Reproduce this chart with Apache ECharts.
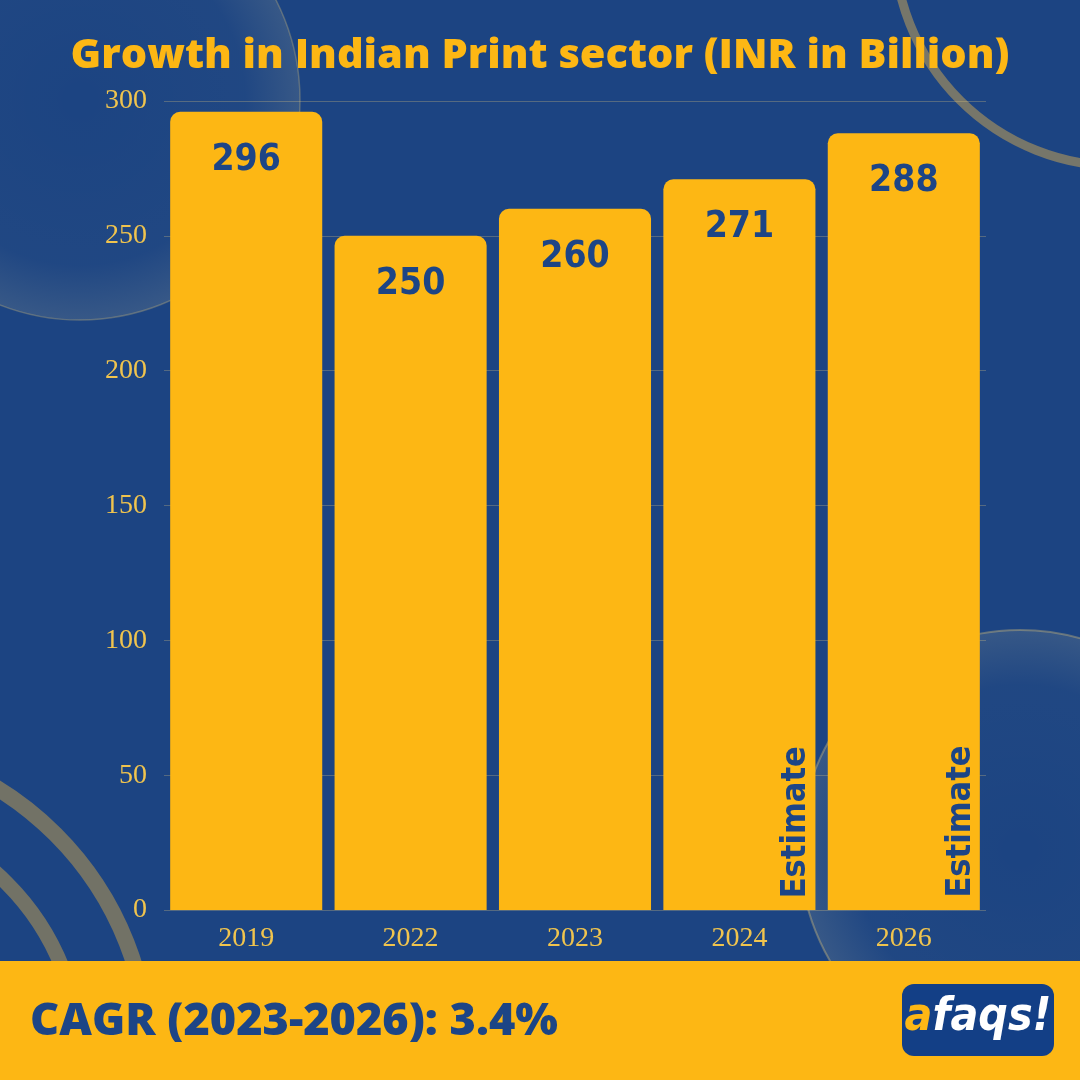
<!DOCTYPE html>
<html>
<head>
<meta charset="utf-8">
<script src="https://cdn.jsdelivr.net/npm/echarts@6/dist/echarts.min.js"></script>
<style>
html,body{margin:0;padding:0;background:#1c4482;}
#main{width:1080px;height:1080px;}
</style>
</head>
<body>
<div id="main"></div>
<script>
const categories = ['2019', '2022', '2023', '2024', '2026'];
const values = [296, 250, 260, 271, 288];
const estimateFlags = [false, false, false, true, true];
const yMin = 0, yMax = 300, yStep = 50;
const titleText = 'Growth in Indian Print sector (INR in Billion)';
const footerText = 'CAGR (2023-2026): 3.4%';

const BLUE = '#1c4482';
const YELLOW = '#fdb714';
const DARK = '#1d4586';
const LABEL = '#f0c44e';
const COND = '"Liberation Sans Narrow", "DejaVu Sans Condensed", "DejaVu Sans"';

const chart = echarts.init(document.getElementById('main'));

const discFill = {
  type: 'radial', x: 0.5, y: 0.5, r: 0.5,
  colorStops: [
    {offset: 0, color: 'rgba(255,235,170,0)'},
    {offset: 0.75, color: 'rgba(255,235,170,0.02)'},
    {offset: 1, color: 'rgba(255,235,170,0.12)'}
  ]
};

chart.setOption({
  backgroundColor: BLUE,
  animation: false,
  title: {
    text: titleText,
    left: 'center',
    top: 30,
    textStyle: {
      color: YELLOW, fontFamily: 'Open Sans', fontWeight: 800, fontSize: 41.5
    }
  },
  grid: {left: 164, right: 94, top: 101, bottom: 170},
  xAxis: {
    type: 'category',
    data: categories,
    axisLine: {show: false},
    axisTick: {show: false},
    axisLabel: {
      color: LABEL, fontFamily: 'Liberation Serif', fontSize: 28, margin: 15
    }
  },
  yAxis: {
    type: 'value',
    min: yMin, max: yMax, interval: yStep,
    axisLine: {show: false},
    axisTick: {show: false},
    axisLabel: {
      color: LABEL, fontFamily: 'Liberation Serif', fontSize: 28, margin: 17
    },
    splitLine: {lineStyle: {color: 'rgba(235,205,130,0.28)', width: 1}}
  },
  graphic: [
    {type: 'circle', z: -10, shape: {cx: 80, cy: 100, r: 220},
      style: {fill: discFill, stroke: 'rgba(230,200,120,0.28)', lineWidth: 1.5}},
    {type: 'circle', z: -10, shape: {cx: 1020, cy: 850, r: 220},
      style: {fill: discFill, stroke: 'rgba(230,200,120,0.35)', lineWidth: 2}},
    {type: 'circle', z: -10, shape: {cx: 1119, cy: -59, r: 225},
      style: {fill: 'none', stroke: '#76766a', lineWidth: 9}},
    {type: 'circle', z: -10, shape: {cx: -170, cy: 1060, r: 319},
      style: {fill: 'none', stroke: '#727266', lineWidth: 16}},
    {type: 'circle', z: -10, shape: {cx: -170, cy: 1060, r: 250},
      style: {fill: 'none', stroke: '#727266', lineWidth: 15}},
    {type: 'rect', z: 10, shape: {x: 0, y: 961, width: 1080, height: 119},
      style: {fill: YELLOW}},
    {type: 'text', z: 11, left: 30, top: 1000,
      style: {text: footerText, fill: DARK, font: '800 45px "Open Sans"'}},
    {type: 'rect', z: 11, shape: {x: 902, y: 984, width: 152, height: 72, r: 12},
      style: {fill: '#133f86'}},
    {type: 'text', z: 12,
      style: {
        x: 978, y: 1018, align: 'center', verticalAlign: 'middle',
        text: '{a|a}{b|faqs!}',
        rich: {
          a: {fill: YELLOW, fontStyle: 'italic', fontWeight: 'bold', fontSize: 46, fontFamily: COND},
          b: {fill: '#ffffff', fontStyle: 'italic', fontWeight: 'bold', fontSize: 46, fontFamily: COND}
        }
      }}
  ],
  series: [
    {
      type: 'bar',
      data: values,
      barCategoryGap: '7.5%',
      itemStyle: {color: YELLOW, borderRadius: [10, 10, 0, 0]},
      label: {
        show: true, position: 'insideTop', distance: 30,
        color: DARK, fontSize: 37, fontWeight: 'bold',
        fontFamily: COND
      }
    },
    {
      type: 'bar',
      barGap: '-100%',
      barCategoryGap: '7.5%',
      data: values.map((v, i) => estimateFlags[i] ? v : '-'),
      itemStyle: {color: 'rgba(0,0,0,0)'},
      silent: true,
      label: {
        show: true, formatter: 'Estimate',
        rotate: 90, position: ['87.5%', '98.4%'],
        align: 'left', verticalAlign: 'middle',
        color: DARK, fontSize: 34, fontWeight: 'bold',
        fontFamily: COND
      }
    }
  ]
});
</script>
</body>
</html>
